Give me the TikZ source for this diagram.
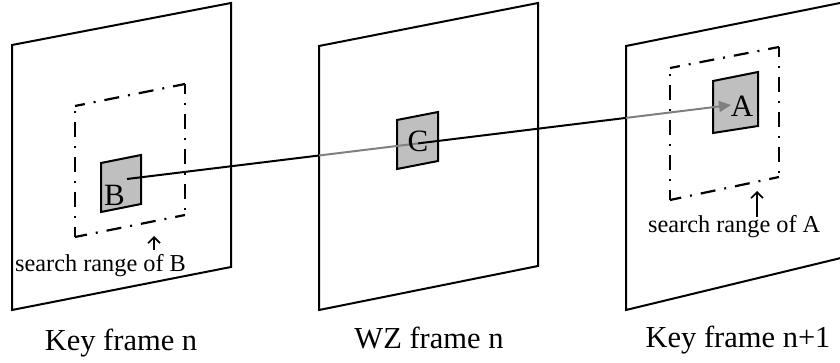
\documentclass[tikz,border=0pt]{standalone}
\usepackage{fontspec}
\setmainfont{Liberation Serif}
\usetikzlibrary{arrows.meta}
\begin{document}
\begin{tikzpicture}[x=1pt,y=-1pt,
  framebox/.style={draw=black,line width=2pt,line join=miter},
  rangeside/.style={draw=black,line width=2.2pt,dash pattern=on 15pt off 9pt on 2pt off 9pt,dash phase=5pt},
  blk/.style={draw=black,fill=black!25,line width=2pt,line join=miter},
  link/.style={line width=2pt,draw=black},
  hiddenlink/.style={line width=2pt,draw=black!50},
  lbl/.style={font=\fontsize{30.5}{31}\selectfont,anchor=base,inner sep=0pt},
  note/.style={font=\fontsize{24.3}{25}\selectfont,anchor=base west,inner sep=0pt},
  letter/.style={font=\fontsize{31}{31}\selectfont,inner sep=0pt},
  pointer/.style={line width=1.6pt,-{Straight Barb[length=6pt,width=12pt]}}]
\useasboundingbox (0,0) rectangle (840,363);
\clip (0,0) rectangle (840,363);

% frames
\draw[framebox] (12,45) -- (231,3) -- (231,267) -- (12,310) -- cycle;
\draw[framebox] (319,46) -- (538,3) -- (538,266) -- (319,310) -- cycle;
\draw[framebox] (626,46) -- (845,2) -- (845,257) -- (626,310) -- cycle;

% search ranges
\coordinate (r1a) at (75,106); \coordinate (r1b) at (185,84);
\coordinate (r1c) at (185,215); \coordinate (r1d) at (75,237);
\draw[rangeside] (r1a) -- (r1b); \draw[rangeside] (r1b) -- (r1c);
\draw[rangeside] (r1c) -- (r1d); \draw[rangeside] (r1d) -- (r1a);
\coordinate (r3a) at (670,68); \coordinate (r3b) at (779,47);
\coordinate (r3c) at (779,177); \coordinate (r3d) at (670,200);
\draw[rangeside] (r3a) -- (r3b); \draw[rangeside] (r3b) -- (r3c);
\draw[rangeside] (r3c) -- (r3d); \draw[rangeside] (r3d) -- (r3a);

% blocks
\draw[blk] (101,163) -- (141,155) -- (141,204) -- (101,212) -- cycle;
\draw[blk] (397,120) -- (438,112) -- (438,161) -- (397,169) -- cycle;
\draw[blk] (713,81) -- (758,72) -- (758,126) -- (713,133) -- cycle;

% motion line
\coordinate (pB) at (127,179);
\coordinate (x2) at (319,155.5);
\coordinate (pC) at (418,143.4);
\coordinate (x3) at (626,117.9);
\coordinate (pA) at (731,105);
\draw[link] (pB) -- (x2);
\draw[hiddenlink] (x2) -- (pC);
\draw[link] (pC) -- (x3);
\draw[hiddenlink,-{Triangle[length=12pt,width=11pt]}] (x3) -- (pA);

% letters
\node[letter] (lB) at (114.5,195) {B};
\node[letter] (lC) at (418,141) {C};
\node[letter] (lA) at (742,106) {A};

% notes
\node[note] (nB) at (15,272) {search range of B};
\node[note] (nA) at (648,233) {search range of A};
\coordinate (tB) at (154,236); \coordinate (sB) at (154,250);
\coordinate (tA) at (757,191); \coordinate (sA) at (757,217);
\draw[pointer] (sB) -- (tB);
\draw[pointer] (sA) -- (tA);

% captions
\node[lbl] (k1) at (121,350) {Key frame n};
\node[lbl] (w1) at (429,348) {WZ frame n};
\node[lbl] (k2) at (738,347) {Key frame n+1};
\end{tikzpicture}
\end{document}
